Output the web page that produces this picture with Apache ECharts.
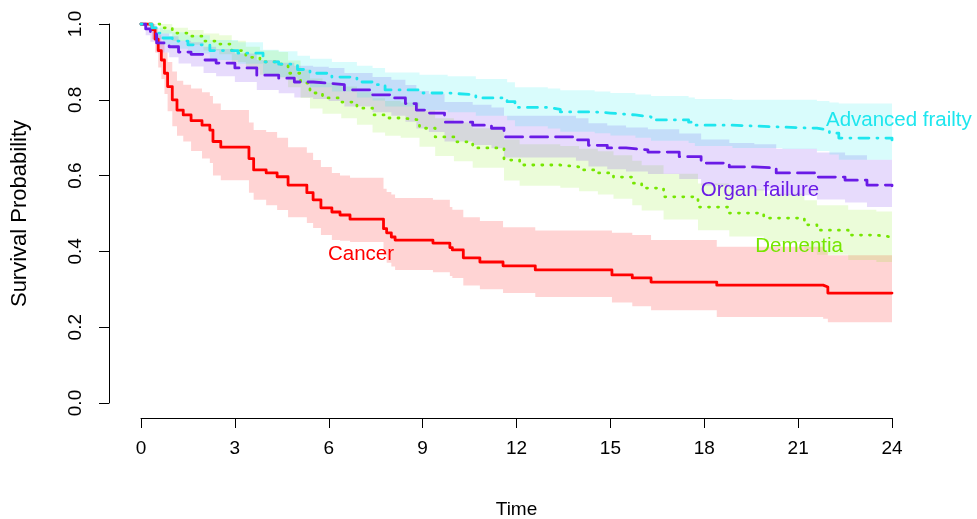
<!DOCTYPE html>
<html>
<head>
<meta charset="utf-8">
<title>Survival by trajectory</title>
<script src="https://cdn.jsdelivr.net/npm/echarts@6/dist/echarts.min.js"></script>
<style>
  html, body { margin: 0; padding: 0; background: #ffffff; }
  #chart { width: 977px; height: 519px; }
</style>
</head>
<body>
<div id="chart"></div>
<script>
// Kaplan-Meier estimates with 95% confidence limits, by illness trajectory.
const xTicks = [0, 3, 6, 9, 12, 15, 18, 21, 24];
const yTicks = [0.0, 0.2, 0.4, 0.6, 0.8, 1.0];

const cancerTime  = [0, 0.35, 0.45, 0.55, 0.65, 0.75, 0.85, 1.0, 1.15, 1.35, 1.6, 1.95, 2.2, 2.3, 2.55, 3.45, 3.6, 4.0, 4.35, 4.7, 5.3, 5.5, 5.75, 6.1, 6.36, 6.68, 7.75, 7.85, 8.0, 8.12, 9.33, 9.87, 9.95, 10.3, 10.83, 11.57, 12.6, 15.05, 15.7, 16.3, 18.4, 21.8, 21.95, 24];
const cancerSurv  = [1, 0.985, 0.96, 0.93, 0.905, 0.87, 0.835, 0.80, 0.773, 0.76, 0.745, 0.733, 0.72, 0.69, 0.675, 0.645, 0.615, 0.607, 0.597, 0.575, 0.555, 0.536, 0.515, 0.504, 0.496, 0.485, 0.46, 0.449, 0.438, 0.43, 0.422, 0.41, 0.404, 0.383, 0.372, 0.362, 0.351, 0.338, 0.33, 0.319, 0.311, 0.306, 0.29, 0.29];
const cancerLower = [1, 0.96, 0.925, 0.885, 0.855, 0.815, 0.77, 0.73, 0.705, 0.69, 0.665, 0.645, 0.633, 0.60, 0.588, 0.555, 0.536, 0.522, 0.509, 0.49, 0.475, 0.462, 0.443, 0.43, 0.428, 0.425, 0.39, 0.37, 0.36, 0.351, 0.345, 0.335, 0.33, 0.31, 0.30, 0.29, 0.28, 0.265, 0.255, 0.245, 0.227, 0.222, 0.213, 0.213];
const cancerUpper = [1, 1.0, 0.99, 0.97, 0.95, 0.925, 0.9, 0.875, 0.85, 0.84, 0.83, 0.82, 0.81, 0.79, 0.773, 0.74, 0.72, 0.715, 0.70, 0.675, 0.66, 0.641, 0.623, 0.607, 0.60, 0.594, 0.565, 0.557, 0.55, 0.541, 0.536, 0.517, 0.51, 0.49, 0.48, 0.464, 0.455, 0.449, 0.443, 0.43, 0.412, 0.40, 0.39, 0.39];

const frailtyTime  = [0, 0.35, 0.5, 0.7, 1.0, 1.5, 2.2, 3.1, 3.9, 4.4, 5.0, 5.4, 6.1, 6.9, 7.4, 7.8, 8.9, 9.8, 10.7, 11.7, 11.95, 13.0, 13.4, 14.5, 15.0, 15.8, 16.3, 17.5, 17.7, 18.9, 20.5, 21.6, 22.0, 22.3, 24];
const frailtySurv  = [1, 0.99, 0.976, 0.963, 0.955, 0.945, 0.93, 0.923, 0.90, 0.894, 0.88, 0.87, 0.86, 0.847, 0.84, 0.826, 0.818, 0.813, 0.805, 0.795, 0.78, 0.775, 0.768, 0.765, 0.76, 0.755, 0.747, 0.741, 0.733, 0.728, 0.725, 0.72, 0.712, 0.699, 0.694];
const frailtyLower = [1, 0.98, 0.96, 0.945, 0.935, 0.922, 0.905, 0.895, 0.868, 0.86, 0.845, 0.833, 0.822, 0.806, 0.798, 0.782, 0.773, 0.767, 0.758, 0.746, 0.73, 0.724, 0.716, 0.712, 0.706, 0.70, 0.692, 0.686, 0.678, 0.673, 0.67, 0.665, 0.656, 0.642, 0.636];
const frailtyUpper = [1, 1.0, 0.99, 0.985, 0.978, 0.97, 0.958, 0.952, 0.932, 0.928, 0.916, 0.908, 0.9, 0.89, 0.884, 0.872, 0.866, 0.862, 0.855, 0.846, 0.833, 0.83, 0.825, 0.822, 0.818, 0.814, 0.81, 0.806, 0.802, 0.80, 0.80, 0.797, 0.793, 0.79, 0.79];

const organTime  = [0, 0.15, 0.3, 0.5, 0.9, 1.2, 1.6, 2.0, 2.4, 3.0, 3.7, 4.4, 4.9, 5.5, 6.0, 6.5, 7.4, 8.0, 8.45, 8.8, 9.2, 9.7, 10.6, 11.2, 11.6, 13.9, 14.3, 14.9, 15.5, 16.2, 17.2, 17.9, 18.8, 19.6, 20.3, 21.6, 22.5, 23.2, 24];
const organSurv  = [1, 0.987, 0.974, 0.95, 0.94, 0.926, 0.92, 0.905, 0.897, 0.884, 0.865, 0.857, 0.847, 0.844, 0.84, 0.826, 0.813, 0.805, 0.79, 0.773, 0.765, 0.741, 0.733, 0.725, 0.702, 0.694, 0.68, 0.673, 0.668, 0.662, 0.65, 0.633, 0.623, 0.62, 0.607, 0.596, 0.588, 0.575, 0.573];
const organLower = [1, 0.97, 0.953, 0.925, 0.912, 0.896, 0.888, 0.871, 0.862, 0.847, 0.826, 0.817, 0.806, 0.802, 0.797, 0.782, 0.767, 0.758, 0.742, 0.724, 0.715, 0.69, 0.681, 0.672, 0.648, 0.639, 0.624, 0.617, 0.611, 0.604, 0.591, 0.574, 0.564, 0.561, 0.548, 0.537, 0.529, 0.517, 0.515];
const organUpper = [1, 1.0, 0.995, 0.975, 0.968, 0.956, 0.952, 0.94, 0.934, 0.922, 0.905, 0.898, 0.89, 0.887, 0.884, 0.871, 0.86, 0.853, 0.839, 0.823, 0.816, 0.794, 0.787, 0.78, 0.758, 0.751, 0.738, 0.732, 0.727, 0.722, 0.711, 0.695, 0.686, 0.683, 0.671, 0.661, 0.654, 0.642, 0.64];

const dementiaTime  = [0, 0.6, 1.0, 1.5, 2.0, 2.5, 2.9, 3.35, 3.8, 4.4, 4.7, 5.1, 5.4, 5.8, 6.4, 6.9, 7.4, 7.8, 8.3, 8.9, 9.4, 10.0, 10.6, 11.6, 12.1, 13.4, 14.0, 14.6, 15.1, 15.7, 16.0, 16.7, 17.8, 18.8, 19.9, 21.2, 21.6, 22.6, 23.5, 24];
const dementiaSurv  = [1, 0.99, 0.976, 0.968, 0.955, 0.947, 0.93, 0.912, 0.90, 0.894, 0.87, 0.844, 0.818, 0.805, 0.794, 0.778, 0.76, 0.752, 0.747, 0.725, 0.702, 0.689, 0.673, 0.641, 0.628, 0.623, 0.615, 0.607, 0.596, 0.58, 0.567, 0.544, 0.517, 0.501, 0.488, 0.47, 0.456, 0.443, 0.438, 0.438];
const dementiaLower = [1, 0.975, 0.955, 0.945, 0.93, 0.92, 0.9, 0.88, 0.866, 0.859, 0.833, 0.805, 0.777, 0.763, 0.751, 0.734, 0.714, 0.705, 0.70, 0.676, 0.652, 0.638, 0.621, 0.587, 0.573, 0.568, 0.559, 0.55, 0.539, 0.522, 0.508, 0.484, 0.456, 0.439, 0.425, 0.406, 0.391, 0.377, 0.372, 0.372];
const dementiaUpper = [1, 1.0, 0.99, 0.984, 0.975, 0.97, 0.956, 0.94, 0.93, 0.926, 0.904, 0.88, 0.856, 0.845, 0.835, 0.82, 0.804, 0.797, 0.793, 0.772, 0.751, 0.74, 0.725, 0.695, 0.683, 0.678, 0.671, 0.664, 0.654, 0.639, 0.627, 0.605, 0.579, 0.564, 0.552, 0.535, 0.522, 0.51, 0.505, 0.505];

// Where each group's name sits, in data units (time, probability).
const groupNames   = ['Cancer', 'Dementia', 'Organ failure', 'Advanced frailty'];
const nameAnchors  = [[7.03, 0.393], [21.03, 0.414], [19.78, 0.562], [24.22, 0.747]];

const groups = [
  { name: 'Cancer', time: cancerTime, surv: cancerSurv, lower: cancerLower, upper: cancerUpper,
    color: '#ff0000', band: 'rgba(255,0,0,0.17)', dash: 'solid' },
  { name: 'Dementia', time: dementiaTime, surv: dementiaSurv, lower: dementiaLower, upper: dementiaUpper,
    color: '#76e600', band: 'rgba(118,238,0,0.15)', dash: [1, 8] },
  { name: 'Organ failure', time: organTime, surv: organSurv, lower: organLower, upper: organUpper,
    color: '#6a1be6', band: 'rgba(110,40,235,0.17)', dash: [17, 8] },
  { name: 'Advanced frailty', time: frailtyTime, surv: frailtySurv, lower: frailtyLower, upper: frailtyUpper,
    color: '#1ee6ee', band: 'rgba(0,238,238,0.15)', dash: [1, 8, 10, 8] }
];

const FONT = "'Liberation Sans', Arial, Helvetica, sans-serif";

// Confidence band drawn as a stepped polygon through the axis scales.
function bandSeries(g) {
  return {
    type: 'custom',
    name: g.name + ' CI',
    silent: true,
    z: 1,
    data: [[0, 0]],
    renderItem: function (params, api) {
      const t = g.time, lo = g.lower, up = g.upper, n = t.length;
      const pts = [];
      for (let i = 0; i < n; i++) {
        pts.push(api.coord([t[i], up[i]]));
        if (i < n - 1) pts.push(api.coord([t[i + 1], up[i]]));
      }
      for (let i = n - 1; i >= 0; i--) {
        pts.push(api.coord([t[i], lo[i]]));
        if (i > 0) pts.push(api.coord([t[i], lo[i - 1]]));
      }
      return { type: 'polygon', shape: { points: pts }, style: { fill: g.band, stroke: null } };
    }
  };
}

function curveSeries(g) {
  return {
    type: 'line',
    name: g.name,
    step: 'end',
    symbol: 'none',
    z: 3,
    silent: true,
    data: g.time.map((t, i) => [t, g.surv[i]]),
    lineStyle: { color: g.color, width: 2.8, type: g.dash, cap: 'round', join: 'round' }
  };
}

const labelSeries = {
  type: 'scatter',
  symbolSize: 0,
  z: 4,
  silent: true,
  clip: false,
  itemStyle: { opacity: 1 },
  data: groupNames.map((nm, i) => ({
    value: nameAnchors[i],
    label: {
      show: true, position: 'inside', formatter: nm,
      color: groups.find(g => g.name === nm).color,
      fontFamily: FONT, fontSize: 20.5
    }
  }))
};

const chart = echarts.init(document.getElementById('chart'), null, { renderer: 'canvas' });
chart.setOption({
  animation: false,
  backgroundColor: '#ffffff',
  grid: { left: 141, right: 85, top: 24, bottom: 116, containLabel: false, outerBoundsMode: 'none' },
  xAxis: {
    type: 'value', min: xTicks[0], max: xTicks[xTicks.length - 1], interval: 3,
    offset: 15,
    name: 'Time', nameLocation: 'middle', nameGap: 82,
    nameTextStyle: { fontFamily: FONT, fontSize: 19, color: '#000' },
    axisLine: { show: true, onZero: false, lineStyle: { color: '#000', width: 1 } },
    axisTick: { show: true, length: 10, inside: false, lineStyle: { color: '#000' } },
    axisLabel: { fontFamily: FONT, fontSize: 19, color: '#000', margin: 21,
      formatter: v => xTicks.includes(v) ? String(v) : '' },
    splitLine: { show: false }
  },
  yAxis: {
    type: 'value', min: 0, max: 1, interval: 0.2,
    offset: 32,
    name: 'Survival Probability', nameLocation: 'middle', nameGap: 78, nameRotate: 90,
    nameTextStyle: { fontFamily: FONT, fontSize: 22, color: '#000' },
    axisLine: { show: true, onZero: false, lineStyle: { color: '#000', width: 1 } },
    axisTick: { show: true, length: 10, inside: false, lineStyle: { color: '#000' } },
    axisLabel: { fontFamily: FONT, fontSize: 19, color: '#000', margin: 24, rotate: 90,
      formatter: v => {
        const m = yTicks.find(y => Math.abs(y - v) < 1e-9);
        return m === undefined ? '' : m.toFixed(1);
      } },
    splitLine: { show: false }
  },
  series: [
    ...groups.map(bandSeries),
    ...groups.map(curveSeries),
    labelSeries
  ]
});
</script>
</body>
</html>
